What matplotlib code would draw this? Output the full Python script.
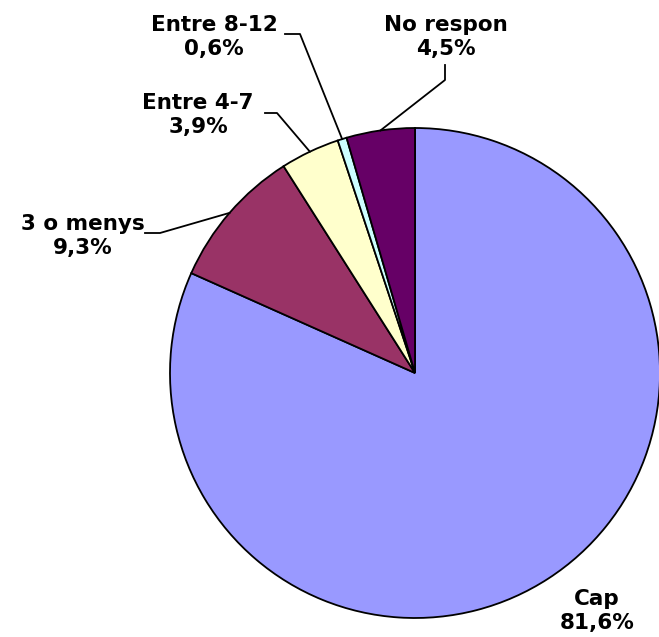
import numpy as np
import matplotlib.pyplot as plt

labels = ["Cap", "3 o menys", "Entre 4-7", "Entre 8-12", "No respon"]
values = [81.6, 9.3, 3.9, 0.6, 4.5]
value_text = ["81,6%", "9,3%", "3,9%", "0,6%", "4,5%"]
colors = ["#9999FF", "#993366", "#FFFFCC", "#CCFFFF", "#660066"]

W, H = 659, 637
CX, CY, R = 415, 373, 245


def px(x, y):
    # pixel position -> data coords (pie radius = 1)
    return (x - CX) / R, (CY - y) / R


# text centre and leader path (text side first) in pixels
text_pos = {
    "Cap": (597, 611),
    "3 o menys": (83, 236),
    "Entre 4-7": (198, 115),
    "Entre 8-12": (214, 37),
    "No respon": (446, 37),
}
leader = {
    "Cap": None,
    "3 o menys": [(145, 233), (160, 233)],
    "Entre 4-7": [(265, 113), (277, 113)],
    "Entre 8-12": [(285, 34), (300, 34)],
    "No respon": [(445, 65), (445, 80)],
}

fig = plt.figure(figsize=(W / 100, H / 100), dpi=100)
ax = fig.add_axes([(CX - R) / W, (H - CY - R) / H, 2 * R / W, 2 * R / H])
wedges, _ = ax.pie(values, colors=colors, startangle=90, counterclock=False,
                   wedgeprops=dict(edgecolor="black", linewidth=1.3))
ax.set_xlim(-1, 1)
ax.set_ylim(-1, 1)
ax.set_aspect("equal")
ax.axis("off")

for w, lab, vt in zip(wedges, labels, value_text):
    tx, ty = px(*text_pos[lab])
    ax.text(tx, ty, f"{lab}\n{vt}", ha="center", va="center", fontsize=15.5,
            fontweight="bold", linespacing=1.3, clip_on=False)
    if leader[lab] is not None:
        mid = np.deg2rad((w.theta1 + w.theta2) / 2)
        pts = [px(*p) for p in leader[lab]] + [(np.cos(mid), np.sin(mid))]
        xs, ys = zip(*pts)
        ax.plot(xs, ys, color="black", linewidth=1.3, clip_on=False)

fig.savefig("out.png", dpi=100)
